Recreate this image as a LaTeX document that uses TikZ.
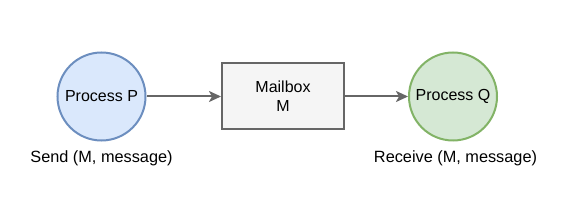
\documentclass[tikz,border=0pt]{standalone}
\usepackage{fontspec}
\setmainfont{Liberation Sans}
\usepackage{tikz}
\usetikzlibrary{arrows.meta,positioning}
\definecolor{bluefill}{HTML}{DAE8FC}
\definecolor{bluedraw}{HTML}{6C8EBF}
\definecolor{greenfill}{HTML}{D5E8D4}
\definecolor{greendraw}{HTML}{82B366}
\definecolor{boxfill}{HTML}{F5F5F5}
\definecolor{boxdraw}{HTML}{666666}
\tikzset{
  proc/.style={circle,line width=2pt,minimum size=88pt,inner sep=0pt,font=\fontsize{16}{19}\selectfont},
  procp/.style={proc,draw=bluedraw,fill=bluefill},
  procq/.style={proc,draw=greendraw,fill=greenfill},
  mbox/.style={draw=boxdraw,fill=boxfill,line width=2pt,minimum width=122pt,minimum height=66pt,align=center,inner sep=0pt,font=\fontsize{16}{19}\selectfont},
  ar/.style={-{Stealth[length=12pt,width=11pt,inset=3pt]},line width=2pt,boxdraw},
  lbl/.style={font=\fontsize{16.3}{19}\selectfont}
}
\begin{document}
\begin{tikzpicture}[x=1pt,y=-1pt]
\useasboundingbox (0,0) rectangle (562,208);
\node[procp] (p) at (101.5,96.5) {Process P};
\node[mbox] (m) at (283,96.5) {Mailbox\\M};
\node[procq] (q) at (453,96.5) {Process Q};
\node[lbl] (send) at (101.5,158) {Send (M, message)};
\node[lbl] (recv) at (455.5,158) {Receive (M, message)};
\draw[ar] (p)--(m);
\draw[ar] (m)--(q);
\end{tikzpicture}
\end{document}
